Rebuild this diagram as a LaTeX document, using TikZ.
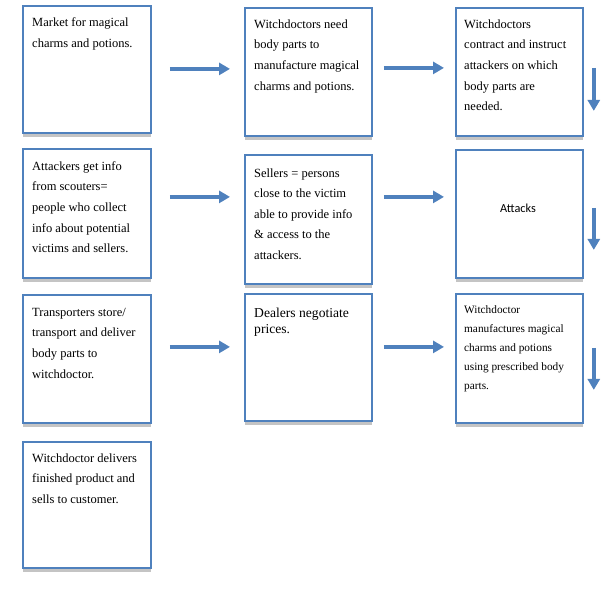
\documentclass[tikz,border=0pt]{standalone}
\usepackage{fontspec}
\setmainfont{Liberation Serif}
\newfontfamily\calibfont{Carlito}
\usetikzlibrary{arrows.meta,shadows,calc}
\definecolor{boxblue}{HTML}{4F81BD}
\definecolor{shadegray}{HTML}{C4C4C4}
\newcommand\mybtxt[3]{\parbox[t]{160pt}{\fontsize{#1}{#2}\selectfont #3}}
\begin{document}
\begin{tikzpicture}[x=1pt,y=-1pt,
  box/.style={draw=boxblue, line width=1.8pt, fill=white, minimum width=128pt,
    anchor=north west, inner sep=0pt,
    drop shadow={shadow xshift=0pt, shadow yshift=-4.5pt, fill=shadegray, opacity=1}},
  txt/.style={anchor=base west, inner sep=0pt},
  arr/.style={draw=boxblue, line width=4pt, -{Triangle[length=11pt,width=12pt]}}]
\useasboundingbox[fill=white] (0,0) rectangle (616,598);

% boxes
\node[box, minimum height=127pt] (b1) at (22,5) {};
\node[box, minimum height=128pt, minimum width=127pt] (b2) at (244,7) {};
\node[box, minimum height=128pt, minimum width=127pt] (b3) at (455,7) {};
\node[box, minimum height=129pt] (b4) at (22,148) {};
\node[box, minimum height=129pt, minimum width=127pt] (b5) at (244,154) {};
\node[box, minimum height=128pt, minimum width=127pt] (b6) at (455,149) {};
\node[box, minimum height=128pt] (b7) at (22,294) {};
\node[box, minimum height=127pt, minimum width=127pt] (b8) at (244,293) {};
\node[box, minimum height=129pt, minimum width=127pt] (b9) at (455,293) {};
\node[box, minimum height=126pt] (b10) at (22,441) {};

% texts
\node[txt] (t1) at (32,26) {\mybtxt{12.5}{21}{Market for magical\\charms and potions.}};
\node[txt] (t2) at (254,28) {\mybtxt{12.5}{20.7}{Witchdoctors need\\body parts to\\manufacture magical\\charms and potions.}};
\node[txt] (t3) at (464,28) {\mybtxt{12.5}{20.7}{Witchdoctors\\contract and instruct\\attackers on which\\body parts are\\needed.}};
\node[txt] (t4) at (32,170) {\mybtxt{12.5}{20.7}{Attackers get info\\from scouters=\\people who collect\\info about potential\\victims and sellers.}};
\node[txt] (t5) at (254,177) {\mybtxt{12.5}{20.5}{Sellers = persons\\close to the victim\\able to provide info\\\&~access to the\\attackers.}};
\node[anchor=base, inner sep=0pt, font=\calibfont\fontsize{12.3}{14}\selectfont] (t6) at (518,212) {Attacks};
\node[txt] (t7) at (32,316) {\mybtxt{12.5}{20.7}{Transporters store/\\transport and deliver\\body parts to\\witchdoctor.}};
\node[txt] (t8) at (254,317) {\mybtxt{13.6}{16}{Dealers negotiate\\prices.}};
\node[txt] (t9) at (464,313.5) {\mybtxt{11.3}{19}{Witchdoctor\\manufactures magical\\charms and potions\\using prescribed body\\parts.}};
\node[txt] (t10) at (32,462) {\mybtxt{12.5}{20.5}{Witchdoctor delivers\\finished product and\\sells to customer.}};

% arrows
\draw[arr] ([xshift=18pt,yshift=0.5pt]b1.east) -- ([xshift=-14pt,yshift=0.5pt]b1.east -| b2.west);
\draw[arr] ([xshift=11pt,yshift=4pt]b2.east) -- ([xshift=-11pt,yshift=4pt]b2.east -| b3.west);
\draw[arr] ([xshift=10pt,yshift=4pt]b3.east) -- ([xshift=10pt,yshift=-39pt]b3.east);

\draw[arr] ([xshift=18pt,yshift=16.5pt]b4.east) -- ([xshift=-14pt,yshift=16.5pt]b4.east -| b5.west);
\draw[arr] ([xshift=11pt,yshift=22.5pt]b5.east) -- ([xshift=-11pt,yshift=22.5pt]b5.east -| b6.west);
\draw[arr] ([xshift=10pt,yshift=6pt]b6.east) -- ([xshift=10pt,yshift=-36pt]b6.east);

\draw[arr] ([xshift=18pt,yshift=12pt]b7.east) -- ([xshift=-14pt,yshift=12pt]b7.east -| b8.west);
\draw[arr] ([xshift=11pt,yshift=10.5pt]b8.east) -- ([xshift=-11pt,yshift=10.5pt]b8.east -| b9.west);
\draw[arr] ([xshift=10pt,yshift=10.5pt]b9.east) -- ([xshift=10pt,yshift=-31.5pt]b9.east);
\end{tikzpicture}
\end{document}
